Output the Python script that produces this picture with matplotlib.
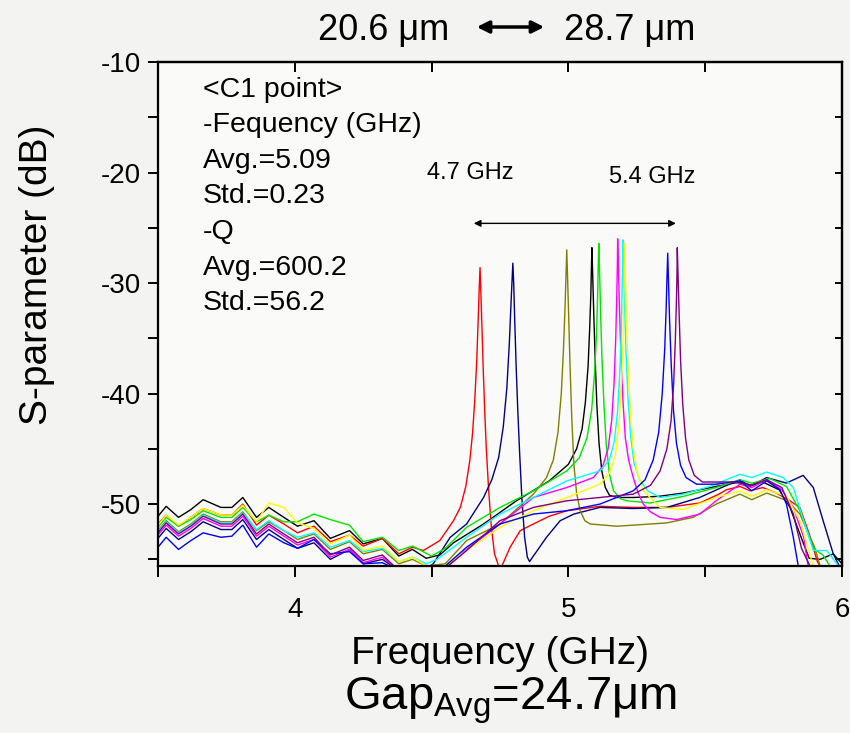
import matplotlib
matplotlib.use('Agg')
import matplotlib.pyplot as plt
from matplotlib.ticker import MultipleLocator, NullFormatter

plt.rcParams['font.family'] = ['Liberation Sans', 'DejaVu Sans']
plt.rcParams['mathtext.fontset'] = 'custom'
plt.rcParams['mathtext.rm'] = 'Liberation Sans'
plt.rcParams['axes.unicode_minus'] = False

# (frequency GHz, S-parameter dB)
black = [(3.50, -51.1), (3.53, -50.2), (3.575, -51.2), (3.62, -50.5), (3.665, -49.6), (3.73, -50.3), (3.77, -50.3),
         (3.81, -49.4), (3.86, -51.2), (3.905, -50.3), (3.96, -51.2), (4.01, -52.0), (4.07, -51.5), (4.13, -53.1),
         (4.20, -52.4), (4.25, -53.6), (4.32, -53.1), (4.38, -54.7), (4.43, -54.1), (4.48, -54.9), (4.53, -54.6),
         (4.58, -53.5), (4.69, -51.8), (4.81, -49.7), (4.93, -47.9), (5.0, -46.4), (5.03, -45.0), (5.05, -43.2),
         (5.062, -40.8), (5.072, -37.5), (5.078, -34.0), (5.082, -31.0), (5.084, -28.8), (5.086, -26.8),
         (5.089, -29.5), (5.093, -33.0), (5.098, -37.0), (5.104, -41.0), (5.112, -44.5), (5.122, -47.0),
         (5.135, -48.5), (5.15, -49.2), (5.177, -49.4), (5.237, -49.4), (5.33, -49.3), (5.42, -49.0), (5.54, -48.4),
         (5.627, -48.0), (5.67, -48.3), (5.71, -48.0), (5.77, -48.7), (5.81, -50.3), (5.846, -52.7), (5.88, -54.9),
         (5.92, -55.0), (5.968, -54.5), (6.0, -55.4)]
red = [(3.50, -51.8), (3.53, -51.0), (3.575, -52.0), (3.62, -51.2), (3.665, -50.4), (3.73, -51.0), (3.77, -51.0),
       (3.81, -50.0), (3.86, -51.9), (3.905, -51.0), (3.96, -51.8), (4.01, -52.6), (4.07, -52.0), (4.13, -53.4),
       (4.20, -52.8), (4.25, -53.8), (4.32, -53.1), (4.38, -54.5), (4.43, -53.9), (4.47, -54.2), (4.53, -53.3),
       (4.58, -51.5), (4.605, -50.3), (4.625, -48.4), (4.64, -46.0), (4.65, -43.5), (4.658, -40.5), (4.665, -37.0),
       (4.670, -33.5), (4.674, -30.5), (4.677, -28.6), (4.680, -30.8), (4.684, -34.0), (4.689, -38.0),
       (4.694, -41.5), (4.70, -45.0), (4.708, -48.5), (4.718, -52.0), (4.73, -54.5), (4.745, -55.6),
       (4.757, -55.6), (4.787, -53.9), (4.824, -52.4), (4.872, -51.8), (4.93, -51.1), (4.994, -50.6),
       (5.115, -50.2), (5.237, -50.3), (5.36, -50.3), (5.48, -49.9), (5.55, -49.1), (5.578, -48.7), (5.627, -48.4),
       (5.664, -48.8), (5.71, -48.5), (5.76, -49.0), (5.81, -49.7), (5.846, -50.3), (5.88, -52.7), (5.91, -55.2),
       (5.93, -56.0)]
navy = [(3.50, -53.1), (3.53, -52.2), (3.575, -53.2), (3.62, -52.5), (3.665, -51.6), (3.73, -52.3), (3.77, -52.3),
        (3.81, -51.4), (3.86, -53.2), (3.905, -52.3), (3.96, -53.2), (4.01, -54.0), (4.07, -53.5), (4.13, -55.0),
        (4.20, -54.1), (4.25, -55.4), (4.32, -55.0), (4.38, -56.0), (4.47, -56.0), (4.506, -55.4), (4.568, -53.0),
        (4.628, -51.8), (4.69, -49.4), (4.72, -47.8), (4.745, -45.8), (4.762, -43.0), (4.775, -39.5),
        (4.784, -35.5), (4.79, -32.0), (4.794, -29.8), (4.797, -28.2), (4.800, -30.0), (4.804, -33.5),
        (4.809, -37.5), (4.815, -41.5), (4.822, -45.5), (4.83, -49.5), (4.84, -53.0), (4.85, -54.8),
        (4.858, -55.2), (4.872, -54.7), (4.92, -53.0), (4.97, -51.5), (5.02, -50.9), (5.115, -50.3),
        (5.237, -50.4), (5.36, -50.3), (5.48, -49.4), (5.56, -48.5), (5.627, -47.8), (5.664, -48.4),
        (5.725, -47.6), (5.797, -48.1), (5.858, -47.4), (5.895, -48.5), (5.931, -51.5), (5.968, -54.5),
        (5.99, -55.6)]
olive = [(3.50, -52.4), (3.53, -51.5), (3.575, -52.5), (3.62, -51.8), (3.665, -50.9), (3.73, -51.6), (3.77, -51.6),
         (3.81, -50.7), (3.86, -52.4), (3.905, -51.6), (3.96, -52.4), (4.01, -53.2), (4.07, -52.7), (4.13, -54.1),
         (4.20, -53.4), (4.25, -54.5), (4.32, -54.1), (4.38, -55.4), (4.43, -55.0), (4.48, -55.6), (4.55, -55.4),
         (4.628, -53.3), (4.75, -51.8), (4.872, -49.1), (4.92, -47.6), (4.945, -46.0), (4.962, -43.5),
         (4.974, -40.0), (4.982, -36.0), (4.988, -32.0), (4.991, -29.5), (4.994, -27.0), (4.997, -29.5),
         (5.001, -33.0), (5.006, -37.5), (5.012, -42.0), (5.02, -46.4), (5.03, -49.0), (5.043, -50.6),
         (5.06, -51.5), (5.08, -51.8), (5.177, -52.0), (5.30, -51.8), (5.359, -51.7), (5.456, -51.2),
         (5.54, -50.0), (5.627, -49.1), (5.67, -49.6), (5.725, -49.0), (5.80, -49.7), (5.846, -50.9),
         (5.90, -53.9), (5.92, -55.6), (5.93, -56.0)]
green = [(3.50, -52.1), (3.53, -51.2), (3.575, -52.0), (3.62, -51.4), (3.665, -50.6), (3.73, -51.2), (3.77, -51.2),
         (3.81, -50.3), (3.86, -51.6), (3.905, -51.0), (3.96, -51.6), (4.01, -51.6), (4.07, -50.9), (4.13, -51.4),
         (4.20, -51.9), (4.25, -53.4), (4.32, -53.0), (4.38, -54.2), (4.43, -53.8), (4.50, -54.7), (4.55, -54.0),
         (4.628, -52.1), (4.75, -50.3), (4.872, -48.8), (4.994, -47.0), (5.04, -45.8), (5.068, -44.0),
         (5.085, -41.5), (5.096, -38.0), (5.103, -34.5), (5.107, -31.0), (5.109, -28.5), (5.111, -26.4),
         (5.114, -29.0), (5.118, -33.0), (5.123, -37.0), (5.13, -41.0), (5.138, -44.5), (5.15, -47.3),
         (5.165, -48.8), (5.19, -49.5), (5.213, -49.7), (5.298, -49.9), (5.42, -49.3), (5.54, -48.5),
         (5.627, -47.8), (5.67, -48.1), (5.737, -47.7), (5.797, -48.4), (5.846, -50.6), (5.895, -54.0),
         (5.93, -54.6), (5.956, -55.6), (5.97, -56.0)]
magenta = [(3.50, -52.8), (3.53, -51.9), (3.575, -52.9), (3.62, -52.2), (3.665, -51.3), (3.73, -52.0),
           (3.77, -52.0), (3.81, -51.1), (3.86, -52.9), (3.905, -52.0), (3.96, -52.9), (4.01, -53.7), (4.07, -53.2),
           (4.13, -54.8), (4.20, -54.1), (4.25, -55.3), (4.32, -54.8), (4.38, -56.0), (4.50, -56.0), (4.56, -55.6),
           (4.628, -54.1), (4.75, -51.8), (4.872, -49.4), (4.994, -48.5), (5.091, -47.6), (5.125, -46.6),
           (5.145, -45.0), (5.158, -42.5), (5.167, -39.0), (5.173, -35.0), (5.177, -31.0), (5.179, -28.3),
           (5.18, -26.0), (5.183, -28.8), (5.187, -32.5), (5.192, -36.5), (5.199, -40.5), (5.208, -44.0),
           (5.22, -46.0), (5.237, -47.6), (5.255, -49.0), (5.274, -50.0), (5.30, -50.7), (5.335, -51.2),
           (5.396, -51.4), (5.481, -50.9), (5.54, -49.7), (5.627, -48.2), (5.67, -48.5), (5.725, -47.8),
           (5.78, -48.7), (5.822, -50.3), (5.86, -53.0), (5.876, -55.6), (5.89, -56.0)]
cyan = [(3.50, -52.5), (3.53, -51.6), (3.575, -52.6), (3.62, -51.9), (3.665, -51.0), (3.73, -51.7), (3.77, -51.7),
        (3.81, -50.8), (3.86, -52.3), (3.905, -51.5), (3.96, -52.4), (4.01, -53.0), (4.07, -52.6), (4.13, -53.9),
        (4.20, -53.3), (4.25, -54.3), (4.32, -54.0), (4.38, -55.2), (4.43, -54.8), (4.48, -55.4), (4.52, -55.0),
        (4.628, -53.0), (4.75, -50.9), (4.872, -49.4), (4.994, -47.9), (5.115, -47.0), (5.15, -46.0),
        (5.168, -44.3), (5.18, -41.5), (5.188, -38.0), (5.193, -34.5), (5.196, -31.0), (5.198, -28.5),
        (5.199, -26.1), (5.202, -28.8), (5.206, -32.5), (5.211, -36.5), (5.218, -40.5), (5.228, -44.0),
        (5.24, -46.3), (5.26, -47.8), (5.29, -48.8), (5.335, -49.4), (5.42, -49.1), (5.517, -48.4),
        (5.627, -47.3), (5.67, -47.6), (5.725, -47.1), (5.785, -47.6), (5.822, -48.5), (5.86, -51.5),
        (5.895, -54.2), (5.944, -54.2), (5.987, -55.6), (6.0, -56.0)]
yellow = [(3.50, -51.9), (3.53, -51.0), (3.575, -51.9), (3.62, -51.2), (3.665, -50.4), (3.73, -51.0), (3.77, -51.0),
          (3.81, -50.1), (3.86, -51.6), (3.905, -49.9), (3.96, -50.3), (4.01, -51.7), (4.07, -52.2), (4.13, -53.6),
          (4.20, -52.8), (4.25, -54.2), (4.32, -53.8), (4.38, -55.2), (4.43, -54.8), (4.48, -55.6), (4.543, -55.7),
          (4.628, -54.2), (4.75, -52.1), (4.872, -50.6), (4.994, -49.4), (5.115, -48.2), (5.15, -47.2),
          (5.172, -45.5), (5.186, -42.5), (5.194, -39.0), (5.199, -35.5), (5.202, -31.5), (5.204, -28.8),
          (5.205, -26.4), (5.208, -29.5), (5.212, -33.5), (5.218, -37.5), (5.226, -41.5), (5.236, -44.8),
          (5.25, -47.0), (5.274, -48.8), (5.335, -50.3), (5.42, -50.5), (5.54, -49.4), (5.627, -48.8),
          (5.67, -49.3), (5.725, -48.7), (5.797, -49.3), (5.846, -51.5), (5.895, -55.6), (5.91, -56.0)]
blue = [(3.50, -53.9), (3.53, -53.0), (3.575, -54.1), (3.62, -53.3), (3.665, -52.6), (3.73, -53.0), (3.77, -52.9),
        (3.81, -51.9), (3.86, -53.9), (3.905, -52.7), (3.96, -53.5), (4.01, -54.0), (4.07, -53.2), (4.13, -54.5),
        (4.20, -54.3), (4.25, -55.4), (4.32, -55.3), (4.38, -56.0), (4.50, -56.0), (4.55, -55.6), (4.628, -53.9),
        (4.75, -51.8), (4.872, -50.9), (4.994, -50.6), (5.115, -50.0), (5.237, -48.8), (5.28, -47.8),
        (5.31, -46.0), (5.33, -43.5), (5.343, -40.0), (5.352, -36.0), (5.357, -32.5), (5.36, -29.8),
        (5.363, -27.3), (5.366, -30.0), (5.37, -33.5), (5.376, -37.5), (5.384, -41.5), (5.395, -44.5),
        (5.41, -46.5), (5.43, -47.6), (5.469, -48.2), (5.54, -48.2), (5.627, -47.9), (5.67, -48.8),
        (5.725, -47.9), (5.773, -48.7), (5.797, -50.0), (5.822, -53.0), (5.84, -55.6), (5.85, -56.0)]
purple = [(3.50, -52.6), (3.53, -51.7), (3.575, -52.7), (3.62, -52.0), (3.665, -51.1), (3.73, -51.8), (3.77, -51.8),
          (3.81, -50.9), (3.86, -52.7), (3.905, -51.8), (3.96, -52.7), (4.01, -53.5), (4.07, -53.0), (4.13, -54.6),
          (4.20, -53.9), (4.25, -55.1), (4.32, -54.6), (4.38, -56.0), (4.50, -56.0), (4.55, -55.8), (4.628, -54.2),
          (4.75, -51.5), (4.872, -50.3), (4.994, -49.7), (5.115, -49.4), (5.237, -49.1), (5.30, -48.3),
          (5.335, -47.0), (5.36, -45.0), (5.375, -42.5), (5.385, -39.0), (5.391, -35.0), (5.395, -31.5),
          (5.397, -29.0), (5.398, -26.8), (5.401, -29.5), (5.405, -33.0), (5.41, -37.0), (5.418, -41.0),
          (5.428, -44.0), (5.44, -46.0), (5.46, -47.4), (5.49, -48.0), (5.506, -48.0), (5.603, -48.0),
          (5.665, -48.3), (5.725, -47.8), (5.78, -48.5), (5.822, -50.9), (5.852, -54.0), (5.883, -55.6),
          (5.9, -56.0)]

curves = [(black, '#000000'), (red, '#ff0000'), (navy, '#000080'), (olive, '#808000'), (green, '#00e600'),
          (magenta, '#ff00ff'), (cyan, '#00ffff'), (yellow, '#ffff00'), (blue, '#0000ff'), (purple, '#800080')]

info = ['<C1 point>', '-Fequency (GHz)', 'Avg.=5.09', 'Std.=0.23', '-Q', 'Avg.=600.2', 'Std.=56.2']

fig = plt.figure(figsize=(8.5, 7.33), dpi=100, facecolor='#f3f3f1')
ax = fig.add_axes([158/850, 1-566/733, 684/850, 504/733], facecolor='#fafaf8')

for pts, c in curves:
    ax.plot([p[0] for p in pts], [p[1] for p in pts], color=c, lw=1.0)

ax.set_xlim(3.5, 6.0)
ax.set_ylim(-55.6, -10)

ax.xaxis.set_major_locator(MultipleLocator(1))
ax.xaxis.set_minor_locator(MultipleLocator(0.5))
ax.yaxis.set_major_locator(MultipleLocator(10))
ax.yaxis.set_minor_locator(MultipleLocator(5))
ax.tick_params(which='both', direction='out', length=7, width=1.4, labelsize=20, pad=5)
ax.tick_params(axis='x', which='both', length=8, pad=14)
for s in ax.spines.values():
    s.set_linewidth(1.6)

# ticks pointing in on top and right
top = ax.secondary_xaxis('top')
top.xaxis.set_major_locator(MultipleLocator(0.5))
top.xaxis.set_major_formatter(NullFormatter())
top.tick_params(direction='in', length=7, width=1.4)
right = ax.secondary_yaxis('right')
right.yaxis.set_major_locator(MultipleLocator(5))
right.yaxis.set_major_formatter(NullFormatter())
right.tick_params(direction='in', length=5, width=1.4)
for sec in (top, right):
    for s in sec.spines.values():
        s.set_linewidth(1.6)

for i, line in enumerate(info):
    ax.text(3.664, -12.5 - 3.22*i, line, fontsize=20.5, va='center', ha='left')

ax.text(4.64, -20.0, '4.7 GHz', fontsize=17, ha='center', va='center')
ax.text(5.306, -20.4, '5.4 GHz', fontsize=17, ha='center', va='center')
ax.annotate('', xy=(5.403, -24.6), xytext=(4.644, -24.6),
            arrowprops=dict(arrowstyle='<|-|>', color='black', lw=1.0, mutation_scale=10))

fig.text(500/850, 1-664/733, 'Frequency (GHz)', fontsize=28, ha='center', va='baseline')
fig.text(37/850, 1-275/733, 'S-parameter (dB)', fontsize=28, rotation=90, ha='center', va='center')
fig.text(511/850, 1-709/733, r'Gap$_\mathregular{Avg}$=24.7μm', fontsize=34, ha='center', va='baseline')

fig.text(449/850, 1-40/733, '20.6 μm', fontsize=26, ha='right', va='baseline')
fig.text(564/850, 1-40/733, '28.7 μm', fontsize=26, ha='left', va='baseline')
fig.add_artist(matplotlib.patches.FancyArrowPatch((474/850, 1-27/733), (547/850, 1-27/733),
               transform=fig.transFigure, arrowstyle='<|-|>', mutation_scale=18, lw=2.5, color='black'))

fig.savefig('out.png', dpi=100, facecolor=fig.get_facecolor())
